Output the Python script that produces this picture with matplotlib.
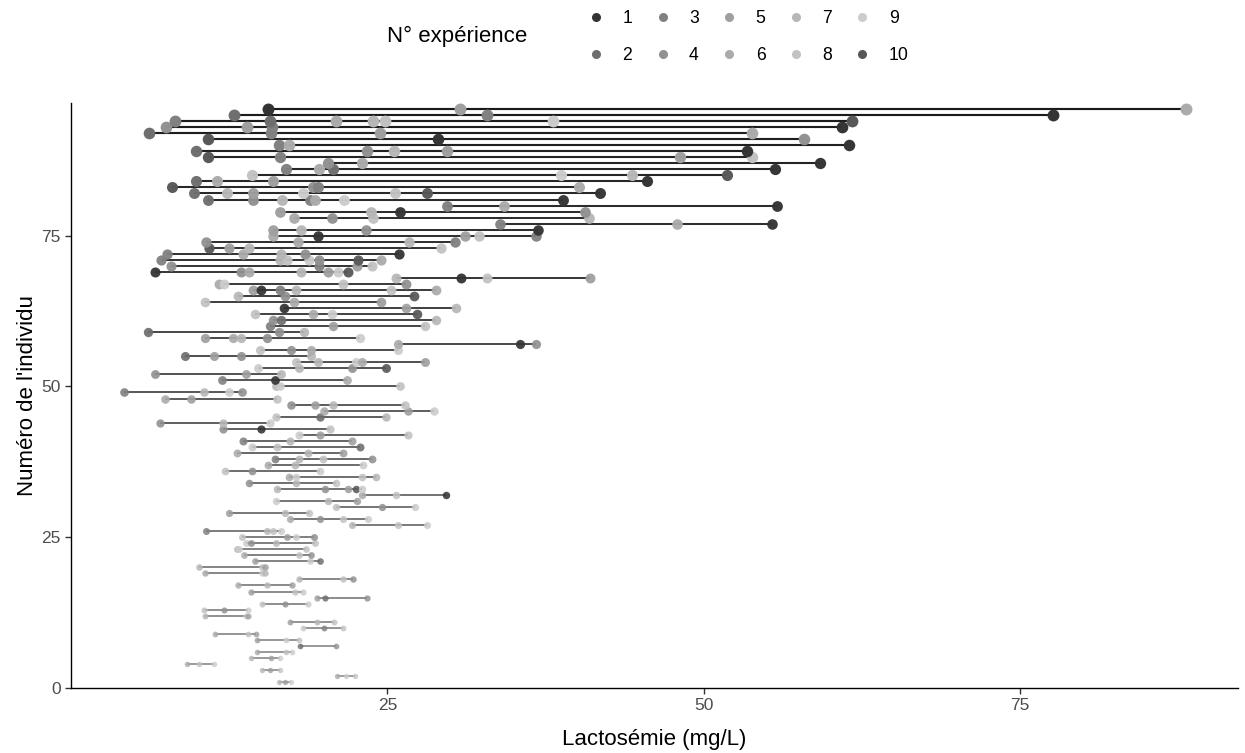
import numpy as np
import matplotlib.pyplot as plt
from matplotlib.lines import Line2D

plt.rcParams['font.family'] = ['Liberation Sans', 'DejaVu Sans']

# lactosémie (mg/L) mesurée pour chaque individu, de l'individu 1 au 96
lacto = [
    [16.4, 16.9, 17.4],
    [21.0, 21.7, 22.4],
    [15.1, 15.7, 16.5],
    [9.2, 10.1, 11.3],
    [14.2, 15.8, 16.5],
    [14.7, 17.0, 17.5],
    [18.1, 20.9],
    [14.7, 17.0, 18.0],
    [11.4, 14.0, 14.6],
    [18.3, 20.0, 21.5],
    [17.3, 19.4, 20.8],
    [10.6, 13.8, 14.0],
    [10.5, 12.1, 14.0],
    [15.1, 16.9, 18.7],
    [19.4, 20.1, 23.4],
    [14.2, 17.7, 18.3],
    [13.2, 15.5, 17.5],
    [18.0, 21.5, 22.3],
    [10.6, 15.1, 15.3],
    [10.1, 15.1, 15.3],
    [14.5, 18.9, 19.7],
    [13.7, 18.0, 19.0],
    [13.1, 13.3, 18.6],
    [13.8, 14.2, 16.2, 19.3],
    [13.5, 17.1, 17.8, 19.2],
    [10.7, 15.5, 16.0, 16.6],
    [22.2, 25.8, 28.1],
    [17.3, 19.7, 21.5, 23.5],
    [12.5, 16.9, 18.8],
    [20.9, 24.6, 27.2],
    [16.2, 20.3, 22.6],
    [23.0, 25.7, 29.6],
    [16.3, 20.1, 21.9, 22.5, 23.0],
    [14.1, 17.8, 20.9],
    [17.2, 17.8, 23.0, 24.1],
    [12.2, 14.3, 19.7],
    [15.6, 17.7, 23.1],
    [16.1, 18.0, 19.9, 23.8],
    [13.1, 18.7, 21.5],
    [14.3, 16.3, 22.8],
    [13.6, 17.3, 22.2],
    [18.0, 19.7, 26.6],
    [12.0, 15.0, 20.5],
    [7.0, 12.0, 15.7],
    [16.2, 19.7, 24.9],
    [20.0, 26.6, 28.7],
    [17.4, 19.3, 20.7, 26.4],
    [7.4, 9.5, 16.3],
    [4.2, 10.5, 12.5, 13.5],
    [16.2, 16.5, 26.0],
    [11.9, 16.1, 21.8],
    [6.6, 13.8, 16.6],
    [14.8, 18.0, 22.2, 24.9],
    [17.8, 19.5, 22.5, 23.0, 28.0],
    [9.0, 11.3, 13.4, 19.0],
    [14.9, 17.4, 19.0, 25.8],
    [25.8, 35.5, 36.7],
    [10.6, 12.8, 13.4, 15.5, 22.8],
    [6.1, 16.4, 18.4],
    [15.7, 20.7, 28.0],
    [16.0, 16.6, 28.8],
    [14.5, 19.1, 20.6, 27.3],
    [16.8, 26.5, 30.4],
    [10.6, 17.6, 24.5],
    [13.2, 16.9, 27.1],
    [14.4, 15.0, 16.5, 17.8, 25.3, 28.8],
    [11.7, 12.1, 21.5, 26.5],
    [25.7, 30.8, 32.9, 41.0],
    [6.6, 13.4, 14.1, 18.2, 20.3, 21.1, 21.9],
    [7.9, 19.6, 22.6, 23.8],
    [7.1, 16.5, 17.1, 18.8, 19.6, 22.7, 24.5],
    [7.6, 13.6, 16.6, 18.5, 25.9],
    [10.9, 12.5, 14.1, 29.2],
    [10.7, 17.9, 26.7, 30.3],
    [16.0, 19.5, 31.1, 32.2, 36.7],
    [16.0, 18.2, 23.3, 36.9],
    [33.9, 47.9, 55.4],
    [17.6, 20.6, 23.9, 40.9],
    [16.5, 23.7, 26.0, 40.6],
    [29.7, 34.2, 55.8],
    [10.8, 14.4, 16.7, 18.9, 19.3, 21.6, 38.9],
    [9.7, 12.3, 14.4, 18.3, 25.6, 28.1, 41.8],
    [8.0, 19.1, 19.5, 40.1],
    [9.9, 11.5, 16.0, 45.5],
    [14.3, 38.7, 44.3, 51.8],
    [17.0, 19.6, 20.7, 55.6],
    [20.3, 23.0, 59.2],
    [10.8, 16.5, 48.1, 53.8],
    [9.9, 23.4, 25.5, 29.7, 53.4],
    [16.4, 17.2, 61.5],
    [10.8, 29.0, 57.9],
    [6.2, 15.8, 24.4, 53.8],
    [7.5, 13.9, 15.9, 60.9],
    [8.2, 15.7, 20.9, 23.9, 24.8, 38.1, 61.7],
    [12.9, 32.9, 77.6],
    [15.6, 30.7, 88.1],
]

# numéro d'expérience associé à chaque mesure
experience = [
    [7, 5, 9], [6, 9, 8], [7, 5, 8], [6, 8, 9], [7, 5, 9],
    [6, 8, 9], [2, 4], [5, 9, 8], [6, 8, 5], [9, 3, 8],
    [5, 7, 8], [7, 9, 5], [8, 4, 9], [8, 4, 9], [5, 2, 4],
    [5, 8, 9], [6, 7, 5], [7, 8, 4], [6, 9, 7], [7, 8, 5],
    [5, 9, 2], [6, 8, 4], [7, 9, 8], [9, 4, 7, 8], [8, 5, 9, 4],
    [3, 7, 8, 9], [7, 8, 9], [6, 4, 8, 9], [5, 7, 8], [8, 4, 9],
    [9, 7, 5], [6, 8, 1], [7, 4, 5, 10, 9], [4, 7, 8], [6, 9, 8, 7],
    [8, 4, 9], [6, 7, 9], [3, 7, 8, 4], [6, 7, 5], [9, 8, 2],
    [3, 7, 5], [9, 5, 8], [4, 1, 8], [4, 7, 9], [8, 2, 7],
    [6, 5, 9], [4, 5, 7, 8], [6, 5, 8], [3, 7, 9, 4], [7, 9, 8],
    [3, 1, 6], [4, 5, 7], [9, 7, 4, 10], [8, 7, 9, 6, 5], [2, 5, 4, 7],
    [8, 4, 6, 9], [6, 1, 4], [5, 6, 7, 4, 9], [2, 4, 7], [3, 5, 8],
    [4, 2, 7], [8, 6, 9, 10], [1, 5, 7], [8, 6, 5], [7, 4, 10],
    [5, 1, 3, 7, 8, 6], [6, 9, 8, 4], [7, 1, 8, 5], [1, 4, 6, 7, 5, 9, 10], [4, 3, 5, 8],
    [3, 7, 8, 9, 4, 10, 6], [3, 6, 7, 4, 1], [10, 5, 7, 8], [4, 6, 7, 3], [6, 1, 5, 8, 3],
    [5, 7, 4, 1], [3, 6, 1], [6, 4, 8, 7], [5, 7, 1, 4], [3, 6, 1],
    [2, 4, 7, 3, 6, 9, 1], [2, 7, 5, 9, 8, 10, 1], [10, 4, 3, 6], [2, 6, 5, 1], [8, 9, 7, 10],
    [3, 6, 2, 1], [4, 6, 1], [10, 3, 5, 8], [2, 4, 7, 5, 1], [3, 6, 1],
    [10, 1, 4], [2, 3, 5, 6], [4, 5, 3, 1], [3, 2, 6, 7, 8, 9, 10], [2, 3, 1],
    [1, 5, 6],
]

# palette de gris (ordre des niveaux : 1, 10, 2, ..., 9)
niveaux = ['1', '10', '2', '3', '4', '5', '6', '7', '8', '9']
g = np.linspace(0.2 ** 2.2, 0.8 ** 2.2, len(niveaux)) ** (1 / 2.2)
couleurs = {int(n): (v, v, v) for n, v in zip(niveaux, g)}

fig = plt.figure(figsize=(12.45, 7.53), dpi=100)
ax = fig.add_axes([0.057, 0.0863, 0.9374, 0.7769])

n = len(lacto)
for i, (vals, exps) in enumerate(zip(lacto, experience)):
    ind = i + 1
    t = i / (n - 1)
    ax.plot([min(vals), max(vals)], [ind, ind], color='black',
            alpha=0.48 + 0.42 * t, lw=1.1 + 0.45 * t, solid_capstyle='butt', zorder=2)
    ms = 3.8 + 4.8 * t
    for v, e in zip(vals, exps):
        ax.plot(v, ind, 'o', ms=ms, color=couleurs[e], mec='none',
                alpha=0.8 + 0.2 * t, zorder=3)

ax.set_xlim(0, 92.2)
ax.set_ylim(0, 97)
ax.set_xticks([25, 50, 75])
ax.set_yticks([0, 25, 50, 75])
for s in ['top', 'right']:
    ax.spines[s].set_visible(False)
for s in ['left', 'bottom']:
    ax.spines[s].set_color('black')
    ax.spines[s].set_linewidth(1.0)
ax.tick_params(colors='#333333', labelcolor='#4d4d4d', labelsize=12.5, length=4, width=1.0)
ax.set_xlabel('Lactosémie (mg/L)', fontsize=16, labelpad=11)
ax.set_ylabel("Numéro de l'individu", fontsize=16, labelpad=2)

# légende des expériences
poignees = [Line2D([], [], ls='none', marker='o', ms=6.5, mec='none', color=couleurs[k])
            for k in range(1, 11)]
fig.legend(poignees, [str(k) for k in range(1, 11)], ncol=5, frameon=False,
           loc='center left', bbox_to_anchor=(0.4716, 0.951), fontsize=12.7,
           handlelength=1.0, handletextpad=1.0, columnspacing=1.22,
           labelspacing=1.12, borderpad=0, borderaxespad=0)
fig.text(0.311, 0.951, 'N° expérience', fontsize=16, va='center', ha='left')

fig.savefig('out.png', dpi=100)
